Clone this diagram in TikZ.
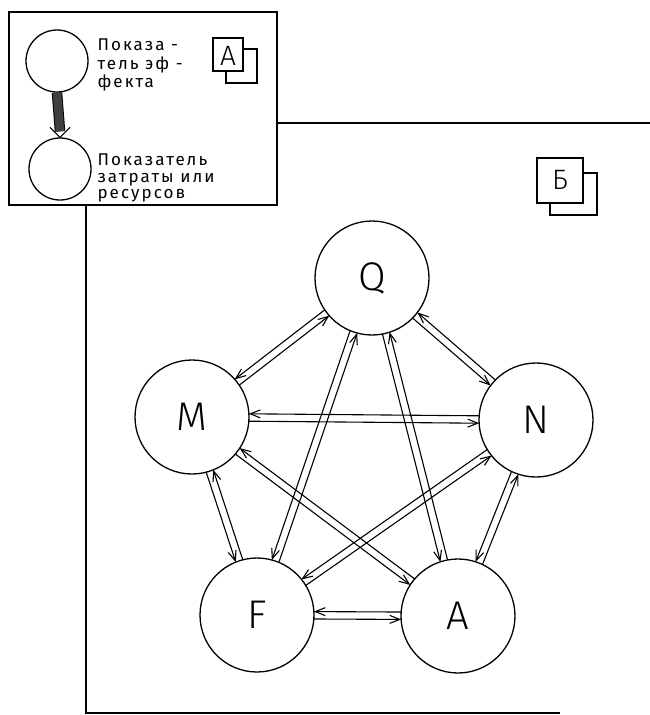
\documentclass[tikz,border=0pt]{standalone}
\usepackage{fontspec}
\setmainfont{Fira Sans Light}
\newfontfamily\lblfont{Fira Sans}[LetterSpace=12]
\usetikzlibrary{arrows.meta,calc}
\newcommand\pairlink[2]{%
  \draw[lk] ($(#1)!3.7pt!-90:(#2)$) -- ($(#2)!3.7pt!90:(#1)$);
  \draw[lk] ($(#2)!3.7pt!-90:(#1)$) -- ($(#1)!3.7pt!90:(#2)$);}
\begin{document}
\begin{tikzpicture}[x=1pt,y=-1pt,line width=1.2pt,
  vtx/.style={circle,draw,minimum size=114pt,inner sep=0pt,line width=1.3pt,font=\fontsize{40}{40}\selectfont},
  smallv/.style={circle,draw,minimum size=62pt,inner sep=0pt,line width=1.3pt},
  lk/.style={-{Straight Barb[length=10pt,width=8pt]},line width=1.1pt,shorten <=56.8pt,shorten >=56.8pt},
  frame/.style={line width=1.6pt},
  txt/.style={anchor=base west,inner sep=0pt,font=\lblfont\fontsize{17}{17}\selectfont},
  icon/.style={draw,fill=white,line width=1.3pt},
  iconlbl/.style={inner sep=0pt,font=\fontsize{28}{28}\selectfont}]
\useasboundingbox (0,0) rectangle (650,715);
\fill[white] (0,0) rectangle (650,715);
% large frame (partly behind box A)
\draw[frame] (277,123) -- (650,123);
\draw[frame] (86,205) -- (86,713) -- (560,713);
% box A
\draw[frame,fill=white] (9,12) rectangle (277,205);
\node[smallv] (c1) at (57,61) {};
\node[smallv] (c2) at (60,169) {};
\draw[line width=1pt,double=black!75,double distance=8.5pt] (c1.south) -- ($(c2.north)+(0,-6)$);
\draw[line width=1.1pt] ($(c2.north)+(-10,-10)$) -- (c2.north) -- ($(c2.north)+(10,-10)$);
\node[txt] (t1) at (97,50) {Показа -};
\node[txt] (t2) at (97,69) {тель эф -};
\node[txt] (t3) at (97,87) {фекта};
\node[txt] (t4) at (97,165) {Показатель};
\node[txt] (t5) at (97,182) {затраты или};
\node[txt] (t6) at (97,198) {ресурсов};
% icon A
\draw[icon] (226,49) rectangle (257,83);
\draw[icon] (213,38) rectangle (243,71);
\node[iconlbl] (ia) at (228,56) {А};
% icon B
\draw[icon] (550,173) rectangle (597,215);
\draw[icon] (537,158) rectangle (583,203);
\node[iconlbl] (ib) at (560,180) {Б};
% main graph
\node[vtx] (Q) at (372,278) {Q};
\node[vtx] (M) at (192,417) {M};
\node[vtx] (N) at (536,420) {N};
\node[vtx] (F) at (257,615) {F};
\node[vtx] (A) at (458,616) {A};
\pairlink{Q}{M}
\pairlink{Q}{N}
\pairlink{Q}{F}
\pairlink{Q}{A}
\pairlink{M}{N}
\pairlink{M}{F}
\pairlink{M}{A}
\pairlink{N}{F}
\pairlink{N}{A}
\pairlink{F}{A}
\end{tikzpicture}
\end{document}
